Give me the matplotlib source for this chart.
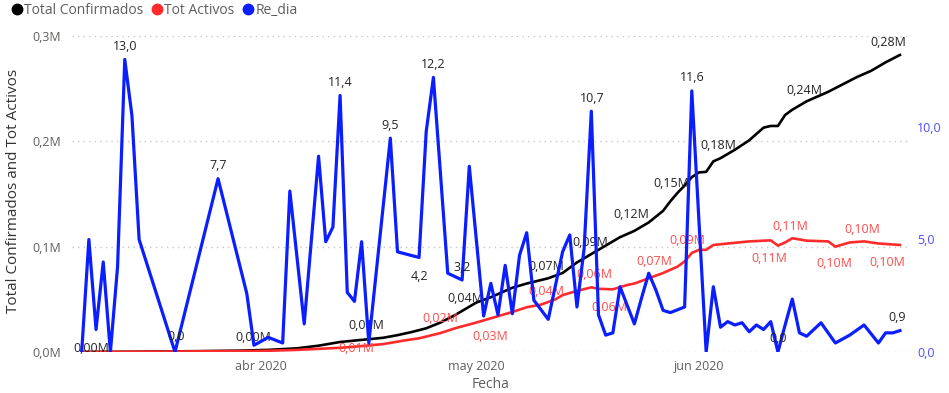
import numpy as np
import pandas as pd
import matplotlib
matplotlib.use("Agg")
import matplotlib.pyplot as plt
import matplotlib.dates as mdates
from matplotlib.lines import Line2D

plt.rcParams["font.family"] = ["Open Sans", "DejaVu Sans"]

start = pd.Timestamp("2020-03-07")

# Total Confirmados (millions), read at day offsets from start
conf_day = [0, 8, 16, 22, 26, 30, 33, 36, 39, 42, 44, 46, 48, 50, 52, 53, 55, 57, 60, 62,
            65, 67, 69, 71, 73, 75, 77, 79, 81, 82, 83, 84, 85, 86, 87, 88, 89, 91, 93, 95,
            96, 97, 98, 99, 100, 101, 102, 104, 106, 108, 110, 112, 114]
conf_val = [0.0, 0.0003, 0.0008, 0.0013, 0.002, 0.0035, 0.006, 0.0095, 0.0115, 0.0135,
            0.016, 0.019, 0.0225, 0.028, 0.035, 0.039, 0.047, 0.052, 0.061, 0.065,
            0.070, 0.075, 0.085, 0.093, 0.101, 0.109, 0.115, 0.123, 0.134, 0.143,
            0.151, 0.158, 0.166, 0.1705, 0.171, 0.181, 0.184, 0.192, 0.201, 0.213,
            0.2146, 0.2146, 0.225, 0.230, 0.234, 0.238, 0.241, 0.247, 0.254, 0.261,
            0.267, 0.275, 0.282]

# Tot Activos (millions)
act_day = [0, 10, 20, 25, 30, 36, 38, 42, 45, 47, 50, 52, 55, 57, 60, 62, 64, 66, 67, 69,
           71, 72, 74, 76, 77, 79, 81, 83, 84, 85, 86, 87, 88, 90, 93, 96, 97, 98, 99, 101,
           104, 105, 107, 109, 111, 114]
act_val = [0.0, 0.0003, 0.0008, 0.001, 0.002, 0.004, 0.005, 0.0075, 0.011, 0.013,
           0.018, 0.0225, 0.028, 0.032, 0.038, 0.0425, 0.045, 0.050, 0.054, 0.058,
           0.0614, 0.060, 0.0595, 0.0636, 0.065, 0.070, 0.075, 0.081, 0.086, 0.094,
           0.097, 0.097, 0.1016, 0.103, 0.105, 0.106, 0.101, 0.104, 0.108, 0.1057,
           0.105, 0.100, 0.104, 0.105, 0.103, 0.1016]

# Re_dia (right axis)
re_day = [0, 1, 2, 3, 4, 5, 6, 7, 8, 13, 19, 23, 24, 26, 28, 29, 31, 33, 34, 35,
          36, 37, 38, 39, 40, 43, 44, 47, 48, 49, 51, 53, 54, 56, 57, 58, 59, 60, 61, 62,
          63, 65, 67, 68, 69, 70, 71, 72, 73, 74, 75, 77, 78, 79, 80, 81, 82, 84, 85, 87,
          88, 89, 90, 91, 92, 93, 94, 95, 96, 97, 98, 99, 100, 101, 103, 105, 107, 109, 111, 112,
          113, 114]
re_val = [0.0, 5.0, 1.0, 4.0, 0.0, 3.8, 13.0, 10.5, 5.0, 0.0, 7.7, 2.6, 0.3, 0.65, 0.4, 7.15, 1.25, 8.7, 4.9, 5.55,
          11.4, 2.65, 2.25, 4.9, 0.4, 9.5, 4.45, 4.2, 9.8, 12.2, 3.5, 3.2, 8.25, 1.6, 3.05, 1.65, 3.85, 1.7, 4.3, 5.3,
          2.3, 1.45, 4.45, 5.2, 2.0, 4.6, 10.7, 1.65, 0.75, 0.85, 2.9, 1.25, 2.4, 3.5, 2.75, 1.85, 1.75, 2.0, 11.6, 0.0,
          2.9, 1.1, 1.35, 1.2, 1.3, 0.9, 1.2, 1.0, 1.35, 0.0, 1.2, 2.35, 0.85, 0.7, 1.3, 0.4, 0.75, 1.2, 0.4, 0.85,
          0.85, 0.95]

# data labels: (day, text, dx px, dy px)
conf_labels = [(0, "0,00M", 10, 4), (22, "0,00M", 14, 13), (39, "0,01M", 5, 14), (53, "0,04M", 3, 12),
               (65, "0,07M", -2, 12), (71, "0,09M", -1, 12), (77, "0,12M", -3, 16), (82, "0,15M", 1, 18),
               (89, "0,18M", -2, 13), (101, "0,24M", -2, 11), (114, "0,28M", -12, 12)]
act_labels = [(38, "0,01M", 2, -2), (50, "0,02M", 0, 15), (57, "0,03M", -1, -18), (64, "0,04M", 5, 13),
              (71, "0,06M", 3, 13), (74, "0,06M", -3, -18), (79, "0,07M", 6, 17), (85, "0,09M", -4, 12),
              (99, "0,11M", -2, 12), (96, "0,11M", -1, -18), (109, "0,10M", -2, 12), (105, "0,10M", -1, -17),
              (111, "0,10M", 9, -19)]
re_labels = [(6, "13,0", 0, 13), (13, "0,0", 1, 15), (19, "7,7", 0, 13), (36, "11,4", 0, 13),
             (43, "9,5", 0, 13), (47, "4,2", 0, -19), (49, "12,2", 0, 13), (53, "3,2", 0, 12),
             (71, "10,7", 1, 13), (85, "11,6", 0, 13), (97, "0,0", 0, 14), (114, "0,9", -3, 13)]

C_CONF, C_ACT, C_RE = "#000000", "#FF2B2B", "#0A1EFF"
GRAY, DARK = "#605E5C", "#252423"


def to_dates(days):
    return mdates.date2num(start + pd.to_timedelta(np.asarray(days), unit="D"))


def put_labels(ax, days, vals, labels, color):
    lookup = dict(zip(days, vals))
    for d, txt, dx, dy in labels:
        ax.annotate(txt, (to_dates([d])[0], lookup[d]), xytext=(dx, dy), textcoords="offset pixels",
                    ha="center", va="center", fontsize=9, color=color, zorder=5)


fig = plt.figure(figsize=(9.49, 3.93), dpi=100)
ax = fig.add_axes([72 / 949, 41 / 393, 838 / 949, 316 / 393])
ax2 = ax.twinx()

ax.plot(to_dates(conf_day), conf_val, color=C_CONF, lw=1.9, solid_joinstyle="round")
ax.plot(to_dates(act_day), act_val, color=C_ACT, lw=1.9, solid_joinstyle="round")
ax2.plot(to_dates(re_day), re_val, color=C_RE, lw=2.3, solid_joinstyle="round")

put_labels(ax, conf_day, conf_val, conf_labels, DARK)
put_labels(ax, act_day, act_val, act_labels, "#FF4B4B")
put_labels(ax2, re_day, re_val, re_labels, DARK)

x0 = mdates.date2num(start)
ax.set_xlim(x0 - 1.35, x0 + 115.4)
ax.set_ylim(0, 0.3)
ax2.set_ylim(0, 14.04)

yt = [0, 0.1, 0.2, 0.3]
ax.set_yticks(yt)
ax.set_yticklabels([f"{v:.1f}M".replace(".", ",") for v in yt])
ax.grid(axis="y", color="#C8C6C4", ls=(0, (1, 3)), lw=1)
ax2.set_yticks([0, 5, 10])
ax2.set_yticklabels(["0,0", "5,0", "10,0"])

months = pd.to_datetime(["2020-04-01", "2020-05-01", "2020-06-01"])
ax.set_xticks(mdates.date2num(months))
ax.set_xticklabels(["abr 2020", "may 2020", "jun 2020"])

for a in (ax, ax2):
    for s in a.spines.values():
        s.set_visible(False)
ax.tick_params(axis="both", length=0, labelsize=9, labelcolor=GRAY)
ax.tick_params(axis="y", pad=8)
ax.tick_params(axis="x", pad=6)
ax2.tick_params(axis="y", length=0, labelsize=9, labelcolor="#4B4BFF", pad=5)

ax.set_xlabel("Fecha", fontsize=10, color=GRAY, labelpad=3)
fig.text(14 / 949, 1 - 191 / 393, "Total Confirmados and Tot Activos", rotation=90,
         ha="center", va="center", fontsize=11, color="#333333")

handles = [Line2D([], [], ls="none", marker="o", ms=7.5, color=c) for c in (C_CONF, C_ACT, C_RE)]
fig.legend(handles, ["Total Confirmados", "Tot Activos", "Re_dia"], loc="upper left",
           bbox_to_anchor=(-0.003, 1.025), ncol=3, frameon=False, handletextpad=0.05,
           columnspacing=0.45, handlelength=1.0, fontsize=10, labelcolor=GRAY)

fig.savefig("out.png", dpi=100)
